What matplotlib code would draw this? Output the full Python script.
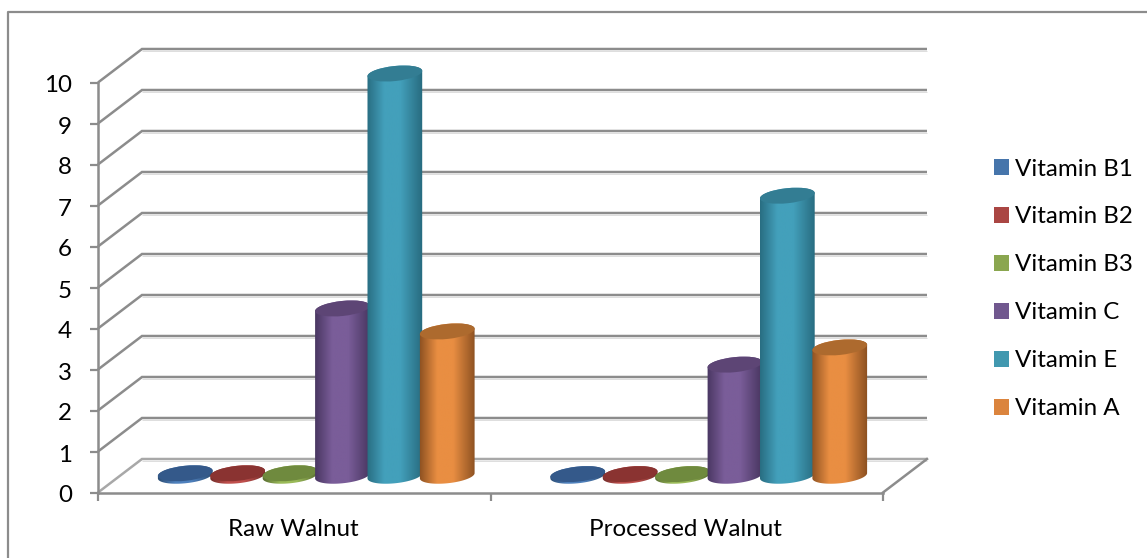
import numpy as np
import matplotlib
matplotlib.use("Agg")
import matplotlib.pyplot as plt
from matplotlib.patches import Patch, PathPatch, Ellipse
from matplotlib.path import Path
from matplotlib.colors import LinearSegmentedColormap

categories = ["Raw Walnut", "Processed Walnut"]
vitamins = ["Vitamin B1", "Vitamin B2", "Vitamin B3", "Vitamin C", "Vitamin E", "Vitamin A"]
raw_walnut = [0.06, 0.06, 0.06, 4.08, 9.81, 3.52]
processed_walnut = [0.04, 0.04, 0.04, 2.71, 6.83, 3.13]
y_ticks = list(range(0, 11))

legend_colors = ['#4675ab', '#aa4643', '#8aa64f', '#71588f', '#4198af', '#db843d']
edge_colors = ['#2a4a70', '#6e2a28', '#55692f', '#46345e', '#276a7e', '#8a4f20']
mid_colors = ['#4f81bd', '#c0504d', '#9bbb59', '#7a5d99', '#43a0bb', '#e98e42']
top_colors = ['#34598a', '#8a3331', '#6f8a3e', '#5d4575', '#337d93', '#ad6a2e']

W, H = 1147, 558
plt.rcParams['font.family'] = ['Lato', 'DejaVu Sans']
fig = plt.figure(figsize=(W / 100, H / 100), dpi=100)

# value axes sit on the front plane of the fake 3D box
ax = fig.add_axes([98 / W, (H - 492.5) / H, 785 / W, 410 / H])
ax.set_xlim(-0.5, 1.5)
ax.set_ylim(0, 10)
ax.axis('off')

# full-figure canvas in image pixels, everything is drawn here
canvas = fig.add_axes([0, 0, 1, 1], zorder=2)
canvas.set_xlim(0, W)
canvas.set_ylim(H, 0)
canvas.axis('off')

DEPTH = (44, -33.5)
GRID = '#8c8c8c'
BAR_STEP = 0.1335
RX, RY = 27.5, 7.5
TILT = np.deg2rad(-6)
FS = 17.4


def to_px(x, val, depth=0.0):
    p = ax.transData.transform((x, val))
    q = canvas.transData.inverted().transform(p)
    return q[0] + DEPTH[0] * depth, q[1] + DEPTH[1] * depth


def ell_pts(cx, cy, t):
    ex = RX * np.cos(t)
    ey = RY * np.sin(t)
    return (cx + ex * np.cos(TILT) - ey * np.sin(TILT),
            cy + ex * np.sin(TILT) + ey * np.cos(TILT))


# frame around the chart, open on the right and at the bottom
canvas.plot([8, 8, W], [H, 12, 12], color='#8c8c8c', lw=1.6, zorder=1, solid_capstyle='butt')

# walls and gridlines
for v in y_ticks:
    x0, y0 = to_px(-0.5, v)
    x1, y1 = to_px(-0.5, v, 1)
    x2, y2 = to_px(1.5, v, 1)
    c = '#a8a8a8' if v == 0 else GRID
    canvas.plot([x0, x1, x2], [y0, y1, y2], color=c, lw=1.8, zorder=1,
                solid_joinstyle='miter', solid_capstyle='butt')
    canvas.plot([x1, x2], [y1 + 1.5, y2 + 1.5], color='#dddddd', lw=0.7, zorder=1, solid_capstyle='butt')
    canvas.plot([x0 - 8, x0], [y0, y0], color=GRID, lw=1.6, zorder=1, solid_capstyle='butt')
    canvas.text(72, y0 + 3.5, str(v), ha='right', va='center', fontsize=FS, color='#000000')

# axis lines and floor edge
xa, ya = to_px(-0.5, 0)
xb, yb = to_px(1.5, 0)
xt, yt = to_px(-0.5, 10)
canvas.plot([xa, xa], [ya, yt], color=GRID, lw=1.8, zorder=1)
canvas.plot([xa, xb], [ya, yb], color=GRID, lw=1.8, zorder=1)
canvas.plot([xb, xb + DEPTH[0]], [yb, yb + DEPTH[1]], color=GRID, lw=1.8, zorder=1)
for tx in [-0.5, 0.5, 1.5]:
    px, py = to_px(tx, 0)
    canvas.plot([px, px], [py, py + 8], color=GRID, lw=1.6, zorder=1, solid_capstyle='butt')

for i, name in enumerate(categories):
    px, py = to_px(i, 0)
    canvas.text(px - 1, 530, name, ha='center', va='center', fontsize=FS, color='#000000')


def draw_cylinder(x, val, j, order):
    cx, base = to_px(x, 0, 0.5)
    _, top = to_px(x, val, 0.5)
    lower = np.linspace(np.pi, 2 * np.pi, 40)
    upper = np.linspace(0, np.pi, 40)
    # the y axis is flipped so sin>0 is the lower half of each ellipse
    bx, by = ell_pts(cx, base, upper[::-1])
    tx, ty = ell_pts(cx, top, lower[::-1])
    verts = np.column_stack([np.r_[bx, tx], np.r_[by, ty]])
    body = PathPatch(Path(np.vstack([verts, verts[0]]), closed=True), fc='none', ec='none', zorder=order)
    canvas.add_patch(body)
    cmap = LinearSegmentedColormap.from_list(
        'cyl', [(0, edge_colors[j]), (0.32, mid_colors[j]), (0.6, mid_colors[j]), (1, edge_colors[j])])
    grad = np.linspace(0, 1, 256)[None, :]
    im = canvas.imshow(grad, cmap=cmap, extent=(cx - RX - 1, cx + RX + 1, base + RY + 4, top - RY - 4),
                       aspect='auto', zorder=order, interpolation='bilinear')
    im.set_clip_path(body)
    canvas.add_patch(Ellipse((cx, top), 2 * RX, 2 * RY, angle=np.rad2deg(TILT),
                             fc=top_colors[j], ec='none', zorder=order + 0.05))


for i, values in enumerate([raw_walnut, processed_walnut]):
    for j, val in enumerate(values):
        draw_cylinder(i + (j - 2.5) * BAR_STEP, val, j, 3 + j * 0.1 + i)

# imshow resets the limits
canvas.set_xlim(0, W)
canvas.set_ylim(H, 0)

handles = [Patch(facecolor=c, edgecolor='none') for c in legend_colors]
leg = canvas.legend(handles, vitamins, loc='upper left', bbox_to_anchor=(994 / W, 1 - 158.5 / H),
                    frameon=False, fontsize=FS, handlelength=0.62, handleheight=0.62,
                    labelspacing=1.115, handletextpad=0.25, borderaxespad=0, borderpad=0)
for t in leg.get_texts():
    t.set_color('#000000')

fig.savefig('out.png', dpi=100)
